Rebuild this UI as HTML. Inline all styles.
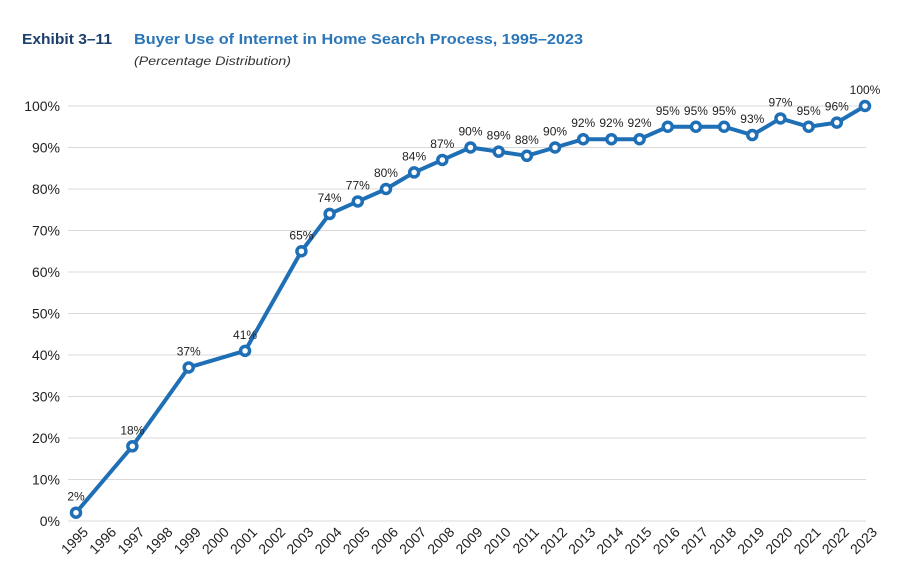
<!DOCTYPE html>
<html><head><meta charset="utf-8"><style>
body{margin:0;background:#fff;}
svg{display:block;font-family:"Liberation Sans",sans-serif;}
</style></head><body>
<svg id="chart" width="900" height="585">
<text x="22" y="44" font-size="15" font-weight="bold" fill="#1d3f6e" textLength="90" lengthAdjust="spacingAndGlyphs">Exhibit 3–11</text>
<text x="134" y="44" font-size="15" font-weight="bold" fill="#2a76b8" textLength="449" lengthAdjust="spacingAndGlyphs">Buyer Use of Internet in Home Search Process, 1995–2023</text>
<text x="134" y="65" font-size="12" font-style="italic" fill="#333" textLength="157" lengthAdjust="spacingAndGlyphs">(Percentage Distribution)</text>
<g id="grid"></g><g id="yticks"></g><g id="xticks"></g><g id="series"></g><g id="labels"></g>
</svg>
<script>
const years = [1995,1996,1997,1998,1999,2000,2001,2002,2003,2004,2005,2006,2007,2008,2009,2010,2011,2012,2013,2014,2015,2016,2017,2018,2019,2020,2021,2022,2023];
const values = [2,null,18,null,37,null,41,null,65,74,77,80,84,87,90,89,88,90,92,92,92,95,95,95,93,97,95,96,100];
const yTicks = [0,10,20,30,40,50,60,70,80,90,100];
const NS="http://www.w3.org/2000/svg";
const x0=76,x1=865,yb=521,yt=106;
const xs=i=>x0+(x1-x0)*i/(years.length-1);
const ys=v=>yb-(yb-yt)*v/100;
function mk(tag,attrs,parent,text){const e=document.createElementNS(NS,tag);for(const k in attrs)e.setAttribute(k,attrs[k]);if(text!==undefined)e.textContent=text;document.getElementById(parent).appendChild(e);return e;}
yTicks.forEach(t=>{
  const l=mk('line',{x1:68,x2:866,y1:ys(t),y2:ys(t),stroke:'#d9d9d9','stroke-width':1},'grid');
  
  
  const tx=mk('text',{x:60,y:ys(t)+5,'text-anchor':'end','font-size':14,fill:'#222'},'yticks',t+'%');
  
  
});
years.forEach((yr,i)=>{
  const x=xs(i)+13,y=533;
  const tx=mk('text',{x:x,y:y,'text-anchor':'end','font-size':14,fill:'#222',transform:`rotate(-45 ${x} ${y})`},'xticks',yr);
  
  
});
const pts=[];values.forEach((v,i)=>{if(v!==null)pts.push([xs(i),ys(v),v]);});
const path=mk('polyline',{points:pts.map(p=>p[0]+','+p[1]).join(' '),fill:'none',stroke:'#1f6fb6','stroke-width':4,'stroke-linejoin':'round'},'series');


pts.forEach(p=>{
  const c=mk('circle',{cx:p[0],cy:p[1],r:4.5,fill:'#fff',stroke:'#1f6fb6','stroke-width':3.5},'series');
  
  
  const t=mk('text',{x:p[0],y:p[1]-12,'text-anchor':'middle','font-size':12,fill:'#222'},'labels',p[2]+'%');
  
  
});
</script>
</body></html>
